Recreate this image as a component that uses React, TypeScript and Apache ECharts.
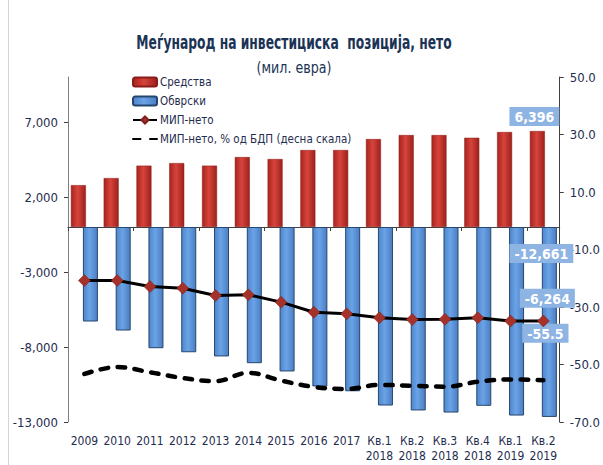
import React, { useEffect, useRef } from "react";
import * as echarts from "echarts";

const categories = [
  "2009", "2010", "2011", "2012", "2013", "2014", "2015", "2016", "2017",
  "Кв.1\n2018", "Кв.2\n2018", "Кв.3\n2018", "Кв.4\n2018", "Кв.1\n2019", "Кв.2\n2019",
];
const assets = [2790, 3260, 4090, 4260, 4090, 4660, 4530, 5130, 5130, 5860, 6130, 6130, 5950, 6330, 6396];
const liabilities = [-6300, -6900, -8080, -8350, -8630, -9080, -9630, -10630, -10950, -11900, -12230, -12370, -11920, -12570, -12661];
const netIip = [-3570, -3570, -3970, -4080, -4570, -4520, -5010, -5680, -5790, -6050, -6170, -6150, -6050, -6270, -6264];
const netPctGdp = [-53.3, -50.9, -52.7, -54.7, -55.8, -52.9, -55.6, -57.8, -58.5, -57.1, -57.4, -57.7, -56.0, -55.2, -55.5];

const seriesNames = ["Средства", "Обврски", "МИП-нето", "МИП-нето, % од БДП (десна скала)"];
const titleText = "Меѓународ на инвестициска  позиција, нето";
const subtitleText = "(мил. евра)";

const FONT = "'DejaVu Sans Condensed', 'Liberation Sans Narrow', sans-serif";
const TXT = "#1F2D4F";
const LABEL_BG = "#8EB4E3";

export default function App() {
  const ref = useRef<HTMLDivElement>(null);
  useEffect(() => {
    document.body.style.margin = "0";
    const chart = echarts.init(ref.current!, null, { renderer: "svg" });
    const last = categories.length - 1;
    const labelBox = {
      show: true,
      color: "#fff",
      fontWeight: "bold",
      fontSize: 14,
      fontFamily: FONT,
      backgroundColor: LABEL_BG,
      padding: [3, 5, 2, 5],
    };
    const fmt = (v: number) => v.toLocaleString("en-US", { maximumFractionDigits: 0 });

    const redGrad = new echarts.graphic.LinearGradient(0, 0, 1, 0, [
      { offset: 0, color: "#A9231F" },
      { offset: 0.45, color: "#D6443C" },
      { offset: 1, color: "#9E201C" },
    ]);
    const blueGrad = new echarts.graphic.LinearGradient(0, 0, 1, 0, [
      { offset: 0, color: "#4F86CC" },
      { offset: 0.45, color: "#6BA3E6" },
      { offset: 1, color: "#4A7FC2" },
    ]);

    chart.setOption({
      animation: false,
      textStyle: { fontFamily: FONT },
      legend: {
        orient: "vertical",
        left: 127,
        top: 71,
        itemGap: 7,
        itemWidth: 24,
        itemHeight: 9,
        textStyle: { fontFamily: FONT, fontSize: 11.5, color: TXT, padding: [0, 0, 0, -2] },
        data: seriesNames,
      },
      graphic: [
        {
          type: "line",
          shape: { x1: 8.5, y1: 0, x2: 8.5, y2: 465 },
          style: { stroke: "#D4D4D4", lineWidth: 1 },
          silent: true,
        },
        {
          type: "text",
          x: 294,
          y: 43,
          scaleX: 0.72,
          style: {
            text: titleText,
            fontFamily: FONT,
            fontSize: 19,
            fontWeight: "bold",
            fill: "#1B3355",
            align: "center",
            verticalAlign: "middle",
          },
          silent: true,
        },
        {
          type: "text",
          x: 294,
          y: 68,
          scaleX: 0.88,
          style: {
            text: subtitleText,
            fontFamily: FONT,
            fontSize: 16,
            fill: "#1B3355",
            align: "center",
            verticalAlign: "middle",
          },
          silent: true,
        },
      ],
      grid: { left: 68, right: 42, top: 77, bottom: 43, containLabel: false },
      xAxis: [
        {
          type: "category",
          data: categories,
          axisLine: { onZero: true, onZeroAxisIndex: 0, lineStyle: { color: "#404040", width: 1 } },
          axisTick: { show: true, length: 4, lineStyle: { color: "#404040" } },
          axisLabel: { show: false },
          splitLine: { show: false },
        },
        {
          type: "category",
          data: categories,
          position: "bottom",
          axisLine: { show: false, onZero: false },
          axisTick: { show: false },
          axisLabel: {
            show: true,
            interval: 0,
            margin: 11,
            fontSize: 12,
            lineHeight: 15,
            color: TXT,
            fontFamily: FONT,
          },
          splitLine: { show: false },
        },
      ],
      yAxis: [
        {
          type: "value",
          min: -13000,
          max: 10000,
          interval: 5000,
          position: "left",
          axisLine: { show: true, lineStyle: { color: "#7F7F7F" } },
          axisTick: { show: true, length: 4, lineStyle: { color: "#404040" } },
          axisLabel: {
            showMaxLabel: false,
            margin: 10,
            fontSize: 13,
            color: TXT,
            fontFamily: FONT,
            formatter: (v: number) => fmt(v),
          },
          splitLine: { show: false },
        },
        {
          type: "value",
          min: -70,
          max: 50,
          interval: 20,
          position: "right",
          axisLine: { show: true, lineStyle: { color: "#404040" } },
          axisTick: { show: true, length: 4, lineStyle: { color: "#404040" } },
          axisLabel: {
            margin: 10,
            fontSize: 13,
            color: TXT,
            fontFamily: FONT,
            formatter: (v: number) => v.toFixed(1),
          },
          splitLine: { show: false },
        },
      ],
      series: [
        {
          name: seriesNames[0],
          type: "bar",
          xAxisIndex: 0,
          yAxisIndex: 0,
          barWidth: 15,
          barGap: "-20%",
          itemStyle: { color: redGrad, borderColor: "#8A1C18", borderWidth: 0.5 },
          data: assets.map((v, i) =>
            i === last
              ? { value: v, label: { ...labelBox, position: "top", offset: [-3, 0], formatter: () => fmt(v) } }
              : v
          ),
          z: 2,
        },
        {
          name: seriesNames[1],
          type: "bar",
          xAxisIndex: 0,
          yAxisIndex: 0,
          barWidth: 15,
          barGap: "-20%",
          itemStyle: { color: blueGrad, borderColor: "#27466F", borderWidth: 1 },
          data: liabilities.map((v, i) =>
            i === last
              ? { value: v, label: { ...labelBox, position: "insideTop", offset: [-8, 12], formatter: () => fmt(v) } }
              : v
          ),
          z: 3,
        },
        {
          name: seriesNames[2],
          type: "line",
          xAxisIndex: 0,
          yAxisIndex: 0,
          symbol: "diamond",
          symbolSize: 12,
          showSymbol: true,
          lineStyle: { color: "#000", width: 3 },
          itemStyle: { color: "#A5322A", borderColor: "#7E1F19", borderWidth: 0.5 },
          data: netIip.map((v, i) =>
            i === last
              ? { value: v, label: { ...labelBox, position: "top", offset: [4, -2], formatter: () => fmt(v) } }
              : v
          ),
          z: 5,
        },
        {
          name: seriesNames[3],
          type: "line",
          xAxisIndex: 0,
          yAxisIndex: 1,
          smooth: 0.4,
          symbol: "circle",
          symbolSize: 1,
          showSymbol: true,
          lineStyle: { color: "#000", width: 4.5, type: [7.5, 9.5], cap: "round" },
          itemStyle: { color: "rgba(0,0,0,0)" },
          data: netPctGdp.map((v, i) =>
            i === last
              ? { value: v, label: { ...labelBox, position: "top", offset: [2, -32], formatter: () => v.toFixed(1) } }
              : v
          ),
          z: 4,
        },
      ],
    });
    return () => chart.dispose();
  }, []);
  return <div ref={ref} style={{ width: 603, height: 465 }} />;
}
